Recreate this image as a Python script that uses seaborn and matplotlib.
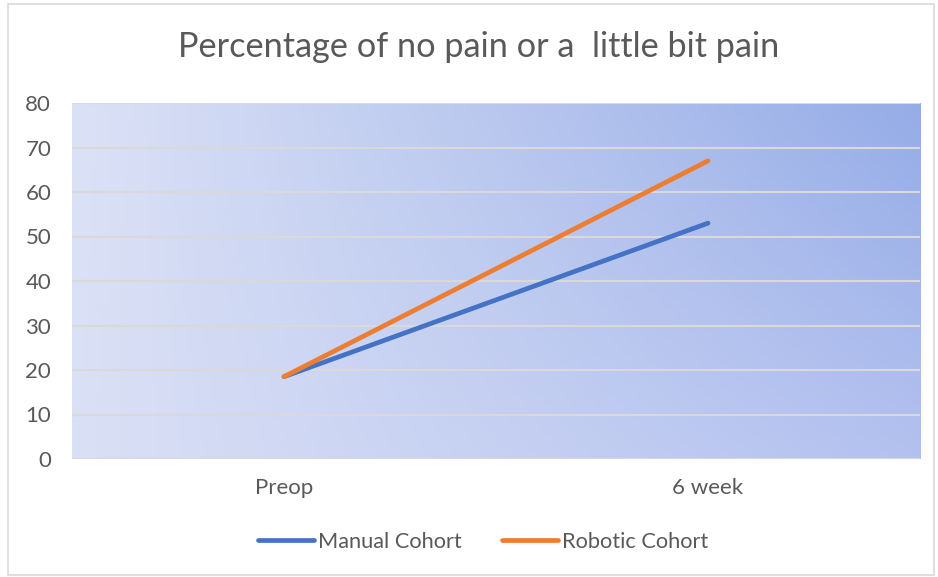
import numpy as np
import pandas as pd
import matplotlib
matplotlib.use('Agg')
import matplotlib.pyplot as plt
import seaborn as sns
from matplotlib.colors import to_rgb
from matplotlib.patches import Rectangle

# data
timepoints = ['Preop', '6 week']
manual_cohort = [18.5, 53]
robotic_cohort = [18.5, 67]
series_names = ['Manual Cohort', 'Robotic Cohort']
yticks = [0, 10, 20, 30, 40, 50, 60, 70, 80]

df = pd.DataFrame({
    'time': timepoints * 2,
    'pct': manual_cohort + robotic_cohort,
    'cohort': [series_names[0]] * 2 + [series_names[1]] * 2,
})

sns.set_style('white')
plt.rcParams['font.family'] = ['Lato', 'DejaVu Sans']

fig = plt.figure(figsize=(9.38, 5.77), dpi=100)
ax = fig.add_axes([72 / 938, 1 - 459 / 577, 848 / 938, 356 / 577])

# gradient background of the plot area (row 0 = top)
tl, tr = np.array(to_rgb('#dce2f6')), np.array(to_rgb('#95ace7'))
bl, br = np.array(to_rgb('#dae0f5')), np.array(to_rgb('#b3c1ef'))
u = np.linspace(0, 1, 200)[None, :, None]
v = np.linspace(0, 1, 100)[:, None, None]
grad = (1 - v) * ((1 - u) * tl + u * tr) + v * ((1 - u) * bl + u * br)
ax.imshow(grad, extent=[-0.5, 1.5, 0, 80], origin='upper', aspect='auto', zorder=0)

sns.lineplot(data=df, x='time', y='pct', hue='cohort', palette=['#4472C4', '#ED7D31'],
             linewidth=3.4, solid_capstyle='round', ax=ax, zorder=3)

ax.set_xlim(-0.5, 1.5)
ax.set_ylim(0, 80)
ax.set_yticks(yticks)
for y in yticks:
    ax.axhline(y, color='#d9d9d9', linewidth=1.5, zorder=1)
for s in ax.spines.values():
    s.set_visible(False)
ax.set_xlabel('')
ax.set_ylabel('')
ax.tick_params(axis='both', length=0, labelsize=16, labelcolor='#595959')
ax.tick_params(axis='y', pad=15)
ax.tick_params(axis='x', pad=14)

ax.set_title('Percentage of no pain or a  little bit pain', fontsize=24.7, color='#595959',
             pad=33, x=0.479)

handles, labels = ax.get_legend_handles_labels()
leg = ax.legend(handles, labels, loc='center', bbox_to_anchor=(0.485, -0.232), ncol=2,
                frameon=False, fontsize=15.7, handlelength=2.55, handletextpad=0.2, columnspacing=1.85,
                labelcolor='#595959')
for line in leg.get_lines():
    line.set_linewidth(3.4)
    line.set_solid_capstyle('round')

fig.patches.append(Rectangle((8 / 938, 2 / 577), 926 / 938, 571 / 577, transform=fig.transFigure,
                             fill=False, edgecolor='#d9d9d9', linewidth=1.2))

fig.savefig('out.png', dpi=100)
